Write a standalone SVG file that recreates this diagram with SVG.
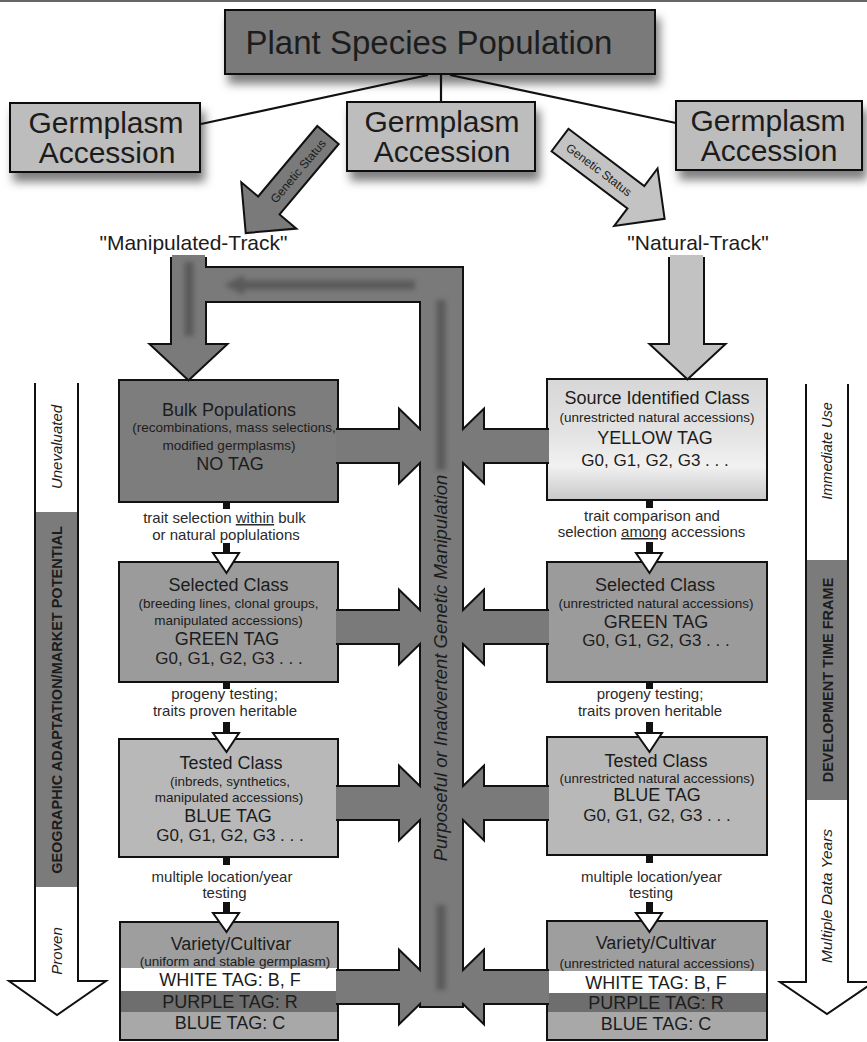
<svg xmlns="http://www.w3.org/2000/svg" width="867" height="1042" viewBox="0 0 867 1042">
<defs>
<style>
text{font-family:"Liberation Sans",Arial,Helvetica,sans-serif;fill:#1c1c1c}
.box{stroke:#111;stroke-width:2}
.big{font-size:30px;text-anchor:middle}
.ttl{font-size:18px;text-anchor:middle}
.sub{font-size:13.5px;text-anchor:middle}
.tag{font-size:18px;text-anchor:middle}
.gen{font-size:17px;text-anchor:middle}
.lbl{font-size:15px;text-anchor:middle;fill:#2a2a2a}
.trk{font-size:21px;text-anchor:middle}
.it{font-style:italic}
.bd{font-weight:bold}
.vt{font-size:15px;text-anchor:middle}
.stem{fill:#111}
.tri{fill:#fff;stroke:#111;stroke-width:2}
.gs{font-size:12px;text-anchor:middle}
.line{stroke:#111;stroke-width:2.2;fill:none}
</style>
<filter id="shadow" x="-10%" y="-20%" width="130%" height="170%">
<feDropShadow dx="4" dy="9" stdDeviation="5" flood-color="#000" flood-opacity="0.5"/>
</filter>
<filter id="blur2" filterUnits="userSpaceOnUse" x="0" y="0" width="867" height="1042">
<feGaussianBlur stdDeviation="2.5"/>
</filter>
<linearGradient id="gSrc" x1="0" y1="0" x2="0" y2="1">
<stop offset="0" stop-color="#d7d7d7"/>
<stop offset="0.45" stop-color="#e3e3e3"/>
<stop offset="0.72" stop-color="#f1f1f1"/>
<stop offset="1" stop-color="#c8c8c8"/>
</linearGradient>
</defs>
<rect x="0" y="0" width="867" height="1042" fill="#fff"/>
<rect x="0" y="0" width="867" height="2" fill="#666"/>

<!-- time bars -->
<g id="timebar-left">
<path d="M35,383 V981 H9 L57,1015 L106,981 H78 V383" fill="#fff" stroke="#111" stroke-width="2"/>
<rect x="36" y="512" width="41" height="375" fill="#7b7b7b"/>
<text class="vt it" transform="translate(62,447) rotate(-90)">Unevaluated</text>
<text class="bd" font-size="14.5" text-anchor="middle" transform="translate(62,700) rotate(-90)">GEOGRAPHIC ADAPTATION/MARKET POTENTIAL</text>
<text class="vt it" transform="translate(62,951) rotate(-90)">Proven</text>
</g>
<g id="timebar-right">
<path d="M806,384 V982 H780 L827,1014 L874,982 H848 V384" fill="#fff" stroke="#111" stroke-width="2"/>
<rect x="807" y="560" width="40" height="240" fill="#7b7b7b"/>
<text class="it" font-size="14.5" text-anchor="middle" transform="translate(832,451) rotate(-90)">Immediate Use</text>
<text class="bd" font-size="14.5" text-anchor="middle" transform="translate(832.5,680) rotate(-90)">DEVELOPMENT TIME FRAME</text>
<text class="it" font-size="15.5" text-anchor="middle" transform="translate(832,896) rotate(-90)">Multiple Data Years</text>
</g>

<!-- top nodes -->
<g id="plant-species">
<rect x="225" y="10" width="430" height="64" fill="#7a7a7a" class="box" filter="url(#shadow)"/>
<text x="429" y="54" font-size="33" text-anchor="middle">Plant Species Population</text>
</g>
<g id="germplasm-left">
<rect x="10" y="103" width="190" height="69" fill="#bdbdbd" class="box" filter="url(#shadow)"/>
<text class="big" x="106" y="133">Germplasm</text>
<text class="big" x="107" y="163">Accession</text>
</g>
<g id="germplasm-center">
<rect x="347" y="102" width="188" height="69" fill="#bdbdbd" class="box" filter="url(#shadow)"/>
<text class="big" x="442" y="132">Germplasm</text>
<text class="big" x="442" y="162">Accession</text>
</g>
<g id="germplasm-right">
<rect x="676" y="101" width="186" height="69" fill="#bdbdbd" class="box" filter="url(#shadow)"/>
<text class="big" x="768" y="131">Germplasm</text>
<text class="big" x="769" y="161">Accession</text>
</g>
<g id="track-manipulated"><text class="trk" x="193.5" y="250">"Manipulated-Track"</text></g>
<g id="track-natural"><text class="trk" x="698" y="250">"Natural-Track"</text></g>

<!-- class boxes -->
<g id="bulk-populations">
<rect x="119" y="380" width="219" height="122" fill="#7d7d7d" class="box"/>
<text class="ttl" x="229" y="416" font-size="17">Bulk Populations</text>
<text class="sub" x="234" y="432" font-size="12.4">(recombinations, mass selections,</text>
<text class="sub" x="229" y="450" font-size="12.6">modified germplasms)</text>
<text class="tag" x="230" y="470" font-size="17.5">NO TAG</text>
</g>
<g id="source-identified">
<rect x="547" y="379" width="220" height="121" fill="url(#gSrc)" class="box"/>
<text class="ttl" x="657" y="404">Source Identified Class</text>
<text class="sub" x="657" y="422">(unrestricted natural accessions)</text>
<text class="tag" x="655" y="444">YELLOW TAG</text>
<text class="gen" x="655" y="466">G0, G1, G2, G3 . . .</text>
</g>
<g id="selected-left">
<rect x="119" y="562" width="219" height="120" fill="#9b9b9b" class="box"/>
<text class="ttl" x="228.5" y="591">Selected Class</text>
<text class="sub" x="228.5" y="608">(breeding lines, clonal groups,</text>
<text class="sub" x="228.5" y="625">manipulated accessions)</text>
<text class="tag" x="227" y="645">GREEN TAG</text>
<text class="gen" x="229" y="664">G0, G1, G2, G3 . . .</text>
</g>
<g id="selected-right">
<rect x="547" y="562" width="220" height="120" fill="#9b9b9b" class="box"/>
<text class="ttl" x="655" y="591">Selected Class</text>
<text class="sub" x="656" y="608">(unrestricted natural accessions)</text>
<text class="tag" x="656" y="628">GREEN TAG</text>
<text class="gen" x="656" y="646">G0, G1, G2, G3 . . .</text>
</g>
<g id="tested-left">
<rect x="119" y="739" width="219" height="118" fill="#b8b8b8" class="box"/>
<text class="ttl" x="231" y="769">Tested Class</text>
<text class="sub" x="230" y="786">(inbreds, synthetics,</text>
<text class="sub" x="229" y="802">manipulated accessions)</text>
<text class="tag" x="228" y="822">BLUE TAG</text>
<text class="gen" x="230" y="841">G0, G1, G2, G3 . . .</text>
</g>
<g id="tested-right">
<rect x="547" y="737" width="220" height="118" fill="#b8b8b8" class="box"/>
<text class="ttl" x="656" y="767">Tested Class</text>
<text class="sub" x="657" y="783">(unrestricted natural accessions)</text>
<text class="tag" x="657" y="801" font-size="17">BLUE TAG</text>
<text class="gen" x="657" y="821" font-size="16.5">G0, G1, G2, G3 . . .</text>
</g>
<g id="variety-left">
<rect x="120" y="922" width="218" height="118" fill="#9e9e9e"/>
<rect x="120" y="968" width="218" height="23" fill="#fff"/>
<rect x="120" y="991" width="218" height="21" fill="#6e6e6e"/>
<rect x="120" y="1012" width="218" height="28" fill="#a8a8a8"/>
<rect x="120" y="922" width="218" height="118" fill="none" class="box"/>
<text class="ttl" x="231" y="950">Variety/Cultivar</text>
<text class="sub" x="235" y="966" font-size="14">(uniform and stable germplasm)</text>
<text class="tag" x="230" y="986" font-size="17.5">WHITE TAG: B, F</text>
<text class="tag" x="230" y="1008" font-size="17">PURPLE TAG: R</text>
<text class="tag" x="230" y="1029" font-size="17.5">BLUE TAG: C</text>
</g>
<g id="variety-right">
<rect x="547" y="921" width="220" height="119" fill="#9e9e9e"/>
<rect x="547" y="971" width="220" height="22" fill="#fff"/>
<rect x="547" y="993" width="220" height="19" fill="#6e6e6e"/>
<rect x="547" y="1012" width="220" height="28" fill="#a8a8a8"/>
<rect x="547" y="921" width="220" height="119" fill="none" class="box"/>
<text class="ttl" x="656" y="949">Variety/Cultivar</text>
<text class="sub" x="657" y="968">(unrestricted natural accessions)</text>
<text class="tag" x="656" y="989" font-size="17.5">WHITE TAG: B, F</text>
<text class="tag" x="656" y="1009" font-size="17">PURPLE TAG: R</text>
<text class="tag" x="656" y="1030" font-size="17.5">BLUE TAG: C</text>
</g>

<!-- connectors -->
<g id="connectors">
<g id="hierarchy-lines">
<line class="line" x1="428" y1="75" x2="201" y2="124"/>
<line class="line" x1="441" y1="75" x2="441" y2="102"/>
<line class="line" x1="450" y1="75" x2="676" y2="123"/>
</g>
<g id="genetic-status-left">
<polygon points="0,-14 92,-14 92,-36 128,0 92,36 92,14 0,14" fill="#7a7a7a" stroke="#111" stroke-width="2" transform="translate(328,135) rotate(130)"/>
<text class="gs" y="4.5" transform="translate(328,135) rotate(130) translate(47,0) rotate(180)">Genetic Status</text>
</g>
<g id="genetic-status-right">
<polygon points="0,-14 95,-14 95,-36 131,0 95,36 95,14 0,14" fill="#c3c3c3" stroke="#111" stroke-width="2" transform="translate(560,140) rotate(37)"/>
<text class="gs" y="4.5" transform="translate(560,140) rotate(37) translate(49,0)">Genetic Status</text>
</g>

<g id="manipulation-network">
<g fill="#7a7a7a" stroke="#111" stroke-width="4">
<rect x="172" y="259" width="33" height="86"/>
<polygon points="152,345 225,345 188.5,379"/>
<rect x="172" y="268" width="290" height="33"/>
<rect x="421" y="268" width="41" height="738"/>
<rect x="338" y="430" width="67" height="32"/><polygon points="400,411 436,446 400,481"/>
<rect x="338" y="611" width="67" height="32"/><polygon points="400,592 436,627 400,662"/>
<rect x="338" y="787" width="67" height="32"/><polygon points="400,768 436,803 400,838"/>
<rect x="338" y="971" width="67" height="32"/><polygon points="400,952 436,987 400,1022"/>
<rect x="478" y="430" width="69" height="32"/><polygon points="483,411 447,446 483,481"/>
<rect x="478" y="611" width="69" height="32"/><polygon points="483,592 447,627 483,662"/>
<rect x="478" y="787" width="69" height="32"/><polygon points="483,768 447,803 483,838"/>
<rect x="478" y="971" width="69" height="32"/><polygon points="483,952 447,987 483,1022"/>
</g>
<g fill="#7a7a7a">
<rect x="172" y="255" width="33" height="90"/>
<polygon points="152,345 225,345 188.5,379"/>
<rect x="172" y="268" width="290" height="33"/>
<rect x="421" y="268" width="41" height="738"/>
<rect x="336" y="430" width="69" height="32"/><polygon points="400,411 436,446 400,481"/>
<rect x="336" y="611" width="69" height="32"/><polygon points="400,592 436,627 400,662"/>
<rect x="336" y="787" width="69" height="32"/><polygon points="400,768 436,803 400,838"/>
<rect x="336" y="971" width="69" height="32"/><polygon points="400,952 436,987 400,1022"/>
<rect x="478" y="430" width="71" height="32"/><polygon points="483,411 447,446 483,481"/>
<rect x="478" y="611" width="71" height="32"/><polygon points="483,592 447,627 483,662"/>
<rect x="478" y="787" width="71" height="32"/><polygon points="483,768 447,803 483,838"/>
<rect x="478" y="971" width="71" height="32"/><polygon points="483,952 447,987 483,1022"/>
</g>
<g opacity="0.5" filter="url(#blur2)">
<path d="M189,262 V336 M415,285 H240 M441,300 V470 M441,905 V990" fill="none" stroke="#3a3a3a" stroke-width="9"/>
<polygon points="224,285 244,275 244,295" fill="#3a3a3a"/>
</g>
<text class="it" font-size="18.5" text-anchor="middle" transform="translate(447,668) rotate(-90)">Purposeful or Inadvertent Genetic Manipulation</text>
</g>

<g id="natural-arrow">
<g fill="#c2c2c2" stroke="#111" stroke-width="4">
<rect x="670" y="259" width="33" height="86"/>
<polygon points="652,345 723,345 687.5,378"/>
</g>
<g fill="#c2c2c2">
<rect x="670" y="255" width="33" height="90"/>
<polygon points="652,345 723,345 687.5,378"/>
</g>
</g>

<g id="step-arrows">
<rect class="stem" x="223" y="502" width="7" height="7"/><rect class="stem" x="223" y="543" width="7" height="10"/><polygon class="tri" points="213,553 239,553 226.5,573"/>
<rect class="stem" x="223" y="682" width="7" height="7"/><rect class="stem" x="223" y="722" width="7" height="11"/><polygon class="tri" points="213,733 239,733 226.5,752"/>
<rect class="stem" x="223" y="857" width="7" height="8"/><rect class="stem" x="223" y="902" width="7" height="11"/><polygon class="tri" points="213,913 239,913 226.5,932"/>
<rect class="stem" x="646" y="500" width="7" height="8"/><rect class="stem" x="646" y="542" width="7" height="11"/><polygon class="tri" points="636,553 662,553 649.5,573"/>
<rect class="stem" x="646" y="682" width="7" height="7"/><rect class="stem" x="646" y="722" width="7" height="11"/><polygon class="tri" points="636,733 662,733 649.5,752"/>
<rect class="stem" x="646" y="855" width="7" height="8"/><rect class="stem" x="646" y="902" width="7" height="11"/><polygon class="tri" points="636,913 662,913 649.5,932"/>
</g>
<g id="step-labels">
<text class="lbl" x="224.5" y="523">trait selection <tspan style="text-decoration:underline">within</tspan> bulk</text>
<text class="lbl" x="226" y="540">or natural poplulations</text>
<text class="lbl" x="224.5" y="699">progeny testing;</text>
<text class="lbl" x="225" y="716">traits proven heritable</text>
<text class="lbl" x="222" y="882">multiple location/year</text>
<text class="lbl" x="224.5" y="898">testing</text>
<text class="lbl" x="652" y="521">trait comparison and</text>
<text class="lbl" x="651.5" y="537">selection <tspan style="text-decoration:underline">among</tspan> accessions</text>
<text class="lbl" x="650" y="699">progeny testing;</text>
<text class="lbl" x="650" y="716">traits proven heritable</text>
<text class="lbl" x="651.5" y="882">multiple location/year</text>
<text class="lbl" x="651" y="898">testing</text>
</g>
</g>
</svg>
